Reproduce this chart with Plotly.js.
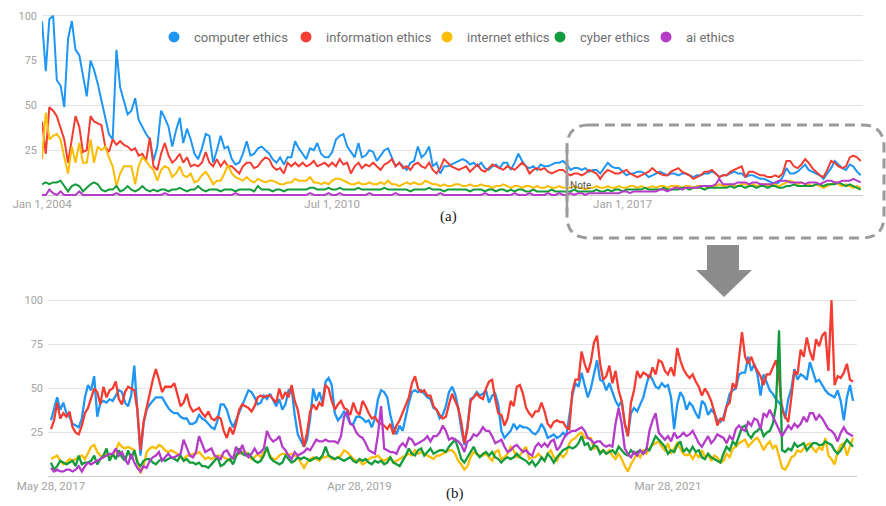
<!DOCTYPE html>
<html>
<head>
<meta charset="utf-8">
<script src="https://cdn.plot.ly/plotly-3.0.1.min.js"></script>
<style>html,body{margin:0;padding:0;background:#fff;}#chart{width:886px;height:506px;}</style>
</head>
<body>
<div id="chart"></div>
<script>
// ---------- series names & colours ----------
const seriesNames = ['computer ethics','information ethics','internet ethics','cyber ethics','ai ethics'];
const seriesColors = ['#1f96f3','#f43c32','#fbbc04','#149b3c','#b43cc8'];

// ---------- panel (a): monthly, Jan 2004 - May 2022 ----------
const topStartYear = 2004;
const topTickVals = ['2004-01-01','2010-07-01','2017-01-01'];
const topTickText = ['Jan 1, 2004','Jul 1, 2010','Jan 1, 2017'];

const topComputer = [
97,69,98,100,64,61,49,87,97,81,
78,66,55,75,70,62,53,44,34,31,
81,60,53,45,47,54,42,38,34,31,
19,27,47,43,38,27,36,43,29,37,
31,23,20,26,34,33,18,25,33,26,
27,20,17,18,23,30,22,23,26,27,
25,23,20,18,21,17,21,21,30,26,
23,20,26,25,29,23,21,21,24,31,
33,34,27,24,21,29,21,22,25,24,
19,22,25,26,21,16,18,16,14,18,
19,27,21,23,27,16,18,12,16,16,
17,18,19,20,19,17,18,16,18,15,
14,16,17,15,18,18,14,18,23,19,
16,15,16,14,
17,16,16,17,18,18,19,17,14,15,15,
14,15,13,14,14,12,15,18,16,15,
15,13,11,12,12,13,13,12,10,11,
12,13,12,11,12,12,11,12,12,11,
10,11,11,12,12,13,12,10,11,11,
12,13,12,12,10,11,11,10,9,9,
8,7,6,7,10,15,12,12,13,15,
17,14,13,12,11,9,12,15,19,17,
15,14,17,16,13,11];

const topInformation = [
41,23,49,47,44,38,31,18,32,44,
38,24,25,44,41,40,39,27,24,31,
28,30,28,27,25,26,22,23,19,32,
16,14,23,29,22,18,20,23,18,21,
16,17,16,18,24,18,16,20,16,19,
16,16,14,12,16,18,18,15,16,19,
21,20,16,14,15,12,18,16,18,16,
18,16,17,19,16,17,18,16,18,16,
20,17,18,12,16,18,15,17,16,18,
16,14,17,18,20,16,18,15,16,14,
17,18,16,15,18,14,12,15,20,18,
16,15,14,15,16,13,15,17,14,13,
15,17,16,15,14,16,15,14,16,18,
16,12,14,15,
14,15,13,12,13,14,14,12,11,12,12,
11,12,14,13,12,9,12,14,13,12,
12,13,14,12,11,10,11,12,13,15,
13,12,11,11,13,14,15,13,12,11,
9,10,11,13,13,14,12,10,11,11,
13,14,15,16,10,13,13,12,11,11,
10,10,11,10,12,19,19,16,15,17,
20,18,15,13,11,10,14,19,18,16,
15,16,21,22,21,19];

const topInternet = [
20,46,31,33,34,31,21,12,27,18,
29,18,18,31,18,27,25,27,21,16,
5,12,16,16,16,6,16,21,19,16,
14,8,14,16,15,10,12,16,11,10,
12,7,8,11,13,10,6,8,8,12,
17,12,10,9,8,10,8,7,9,8,
7,8,8,7,6,6,7,7,9,8,
8,8,10,7,7,6,7,6,8,9,
9,8,7,6,6,7,6,6,7,6,
6,7,6,8,6,6,5,6,7,6,
7,6,6,8,7,6,6,5,6,5,
5,6,6,5,5,6,5,5,6,5,
5,4,5,5,6,5,4,5,5,4,
5,5,4,5,
4,4,5,4,4,5,4,4,4,5,4,4,3,4,4,5,4,
4,5,4,4,5,4,4,5,5,4,5,4,4,5,4,5,5,4,5,5,
5,4,5,5,4,5,5,5,4,5,5,6,5,5,6,5,5,6,6,5,
6,5,6,6,5,6,6,5,6,7,8,7,6,7,6,6,5,6,5,4,
5,6,7,6,5,6,5,4,5,4];

const topCyber = [
6,7,6,7,7,8,5,2,5,6,
5,2,4,6,7,6,3,2,3,3,
5,2,3,5,3,2,3,5,3,2,
3,2,3,3,2,3,3,4,3,2,
3,3,5,3,2,3,3,3,2,3,
3,3,2,3,3,3,3,2,5,3,
3,3,2,3,3,2,3,3,3,3,
3,3,4,4,3,3,3,4,3,3,
4,3,3,3,3,4,3,3,3,3,
3,3,4,3,3,3,3,3,3,2,
3,3,3,3,4,3,3,3,2,3,
3,3,3,3,3,2,3,3,3,2,
3,3,2,3,3,2,3,2,3,3,
2,2,3,2,
2,2,2,3,2,2,2,2,2,3,2,2,2,2,2,3,2,
2,3,2,3,3,2,3,3,3,3,3,4,3,3,3,3,4,3,3,3,
3,4,4,3,4,4,4,3,4,4,4,4,4,4,5,4,5,5,4,5,
5,4,5,5,4,5,5,4,4,5,5,6,5,5,5,5,5,6,6,5,
6,6,6,7,6,5,6,5,4,3];

const topAi = [
0,0,3,1,0,2,0,0,0,0,
2,0,0,0,0,0,0,0,0,0,
1,0,0,0,0,0,0,0,0,0,
0,0,0,1,0,0,0,0,0,0,
0,0,0,0,0,0,0,0,0,0,
0,0,1,0,0,0,0,0,0,0,
0,0,0,0,0,0,0,0,0,0,
0,0,1,0,0,0,0,1,0,0,
1,0,0,0,0,0,0,0,1,0,
0,0,0,0,0,1,0,0,0,0,
0,0,0,0,0,0,0,1,0,0,
0,0,0,0,0,0,0,0,0,1,
0,0,0,0,0,0,0,1,0,0,
0,1,0,0,
0,0,1,0,0,1,0,0,1,0,1,1,0,1,1,1,1,
1,1,1,1,1,2,2,1,2,2,2,2,2,2,2,3,3,2,3,4,
4,3,4,4,4,4,5,5,5,5,6,9,6,6,6,6,7,7,7,6,
7,7,6,6,6,6,7,8,8,8,7,7,7,7,6,7,7,7,6,7,
8,8,7,7,8,8,8,9,8,7];

// ---------- panel (b): weekly, May 28 2017 - May 22 2022 ----------
const bottomStart = [2017, 4, 28];
const bottomTickVals = ['2017-05-28','2019-04-28','2021-03-28'];
const bottomTickText = ['May 28, 2017','Apr 28, 2019','Mar 28, 2021'];

const weekComputer = [
32,38,45,38,42,36,34,30,29,28,
33,45,52,49,57,34,42,43,42,44,
43,46,49,48,42,40,46,63,38,12,
30,38,41,43,45,45,45,42,39,37,
36,36,34,33,33,30,30,31,35,33,
32,30,28,27,32,41,41,38,32,28,
32,36,41,
44,49,48,45,41,42,46,
44,47,43,40,44,38,41,49,50,35,
24,20,17,21,33,50,43,48,42,54,
56,52,36,32,34,37,34,30,30,34,
34,33,31,32,28,33,44,49,48,45,
35,28,24,29,26,34,42,48,49,48,
49,47,45,44,39,38,33,35,40,48,51,
47,39,27,18,29,44,45,48,46,
47,49,42,46,47,41,26,22,24,26,
30,27,29,28,28,27,25,24,26,30,
27,22,23,24,22,23,25,23,34,46,
53,51,59,52,45,50,59,66,55,54,
49,53,48,43,40,43,30,23,36,39,
37,41,45,52,58,55,51,50,
53,51,
52,45,27,41,48,45,38,42,40,36,
33,43,41,35,38,36,32,31,34,40,
47,49,50,58,59,59,68,60,64,58,
46,58,53,49,47,44,42,40,33,44,
50,61,55,58,57,55,65,60,54,55,
52,49,47,46,45,49,43,32,45,52,43];

const weekInformation = [
27,32,42,33,36,34,37,28,25,24,
29,36,39,44,50,48,41,51,45,49,
50,54,44,41,48,51,50,49,38,15,
31,40,47,55,61,55,48,51,51,51,
53,47,40,42,47,40,37,38,39,36,
34,37,33,32,34,33,26,22,28,24,
30,38,41,
40,39,37,40,45,46,45,
46,46,44,42,50,44,48,45,52,43,
38,28,17,25,37,41,38,42,40,52,
50,43,38,41,43,39,38,35,42,37,
35,43,40,36,33,34,31,30,29,27,
30,24,29,32,36,41,45,53,57,50,
48,49,46,46,40,38,35,33,34,41,47,
43,39,31,19,27,43,45,47,45,
44,50,54,55,44,36,35,29,33,43,
40,51,52,47,39,36,34,37,37,42,
37,30,28,31,32,31,31,28,27,48,
55,55,71,64,59,65,76,80,64,55,
57,63,53,60,49,43,30,23,42,49,
60,56,59,58,56,62,58,66,
65,60,
58,62,57,73,66,61,58,56,58,54,
51,46,50,47,43,37,29,33,32,40,
42,53,50,67,82,68,64,68,63,60,
57,52,58,58,62,66,56,38,34,31,
45,60,58,72,68,79,71,66,78,74,
80,82,60,100,52,57,56,59,64,55,54];

const weekInternet = [
10,11,12,9,7,8,10,9,10,11,
12,10,14,17,18,14,12,11,13,11,
12,15,19,17,16,17,16,15,9,2,
6,14,16,17,16,18,17,15,14,15,
14,13,11,10,12,12,13,13,14,12,
10,11,10,11,12,12,11,10,9,11,
12,13,14,
14,13,10,11,13,11,14,
15,12,10,10,12,13,13,12,13,12,
11,8,5,8,10,11,10,9,11,11,
12,10,10,11,12,15,14,12,10,9,
9,7,8,10,11,11,12,10,9,10,
11,8,9,10,11,12,13,12,15,13,
14,13,12,11,10,12,12,13,14,15,15,
13,9,7,4,6,11,14,13,12,
12,13,11,9,14,15,10,11,13,17,
15,11,12,15,17,10,11,11,13,11,
9,13,15,11,9,13,11,13,19,21,
22,24,25,22,22,22,16,17,14,15,
13,15,12,10,13,10,6,3,7,10,
13,11,15,13,16,18,19,20,
17,15,
19,13,16,19,16,13,12,13,10,13,
11,15,11,13,9,12,11,8,9,13,
11,16,17,19,20,21,17,19,21,22,
19,15,18,20,16,18,11,5,4,7,
11,12,15,14,16,18,19,16,14,17,
15,22,12,10,7,14,18,19,12,17,22];

const weekCyber = [
8,4,6,9,8,7,8,9,6,12,
7,8,8,9,12,7,10,12,16,9,
13,10,15,11,9,15,10,15,8,6,
9,10,10,8,7,9,10,9,10,11,
10,9,12,9,10,8,8,7,8,6,
6,5,7,9,11,6,7,9,10,7,
12,16,13,
12,13,11,9,8,9,12,
17,11,9,8,7,8,12,10,8,9,
11,10,11,10,9,10,11,10,12,17,
12,11,10,11,10,9,10,11,9,8,
10,9,10,8,7,9,8,9,7,8,
11,8,7,6,9,12,16,13,12,15,
16,12,14,16,13,14,15,15,14,17,19,
21,16,10,8,11,14,17,13,11,
13,14,12,14,11,10,8,10,11,10,
11,13,11,10,9,7,9,6,8,11,
9,13,11,8,11,13,15,16,17,16,
17,19,23,18,19,15,18,17,13,15,
13,14,15,13,17,15,13,12,15,13,
14,15,13,16,15,19,23,21,
19,17,
13,15,14,18,20,14,16,14,17,14,
15,11,10,13,11,10,9,8,13,17,
15,20,18,23,28,29,24,22,25,26,
28,23,25,26,30,40,83,15,14,16,
15,19,17,18,19,15,17,19,19,18,
18,20,19,18,15,13,15,18,21,19,17];

const weekAi = [
5,3,4,3,3,4,4,3,4,6,
3,6,8,7,8,9,10,11,12,13,
13,16,12,14,10,7,13,8,5,3,
6,5,9,11,12,14,9,11,13,11,
11,12,13,21,16,12,11,14,23,18,
14,15,16,12,11,10,14,15,12,10,
17,13,18,
13,11,13,16,13,14,16,
26,22,20,21,23,17,15,12,10,14,
12,13,14,16,15,18,21,20,20,21,
20,20,20,19,23,34,37,30,29,25,
23,22,19,15,14,13,24,40,16,15,
14,14,13,17,19,17,22,21,18,19,
20,21,23,20,23,23,25,29,26,21,22,
21,20,18,14,20,21,24,23,25,
28,26,26,23,19,20,21,17,14,15,
17,18,16,14,15,13,12,17,19,17,
19,17,20,21,15,17,21,24,25,26,
26,27,28,26,22,21,19,20,20,18,
17,18,17,30,39,30,16,13,11,14,
12,15,13,15,26,32,36,25,
23,21,
23,20,25,22,23,25,23,24,26,22,
19,17,20,23,19,21,24,23,22,19,
23,21,27,29,27,26,31,29,33,32,
27,36,34,38,34,31,26,23,26,29,
27,30,28,30,34,31,36,36,32,35,
33,30,27,26,24,20,25,28,25,24,23];

const yTickVals = [25,50,75,100];

// ---------- helpers ----------
const W = 886, H = 506;
const px = v => v / W;
const py = v => 1 - v / H;

function monthDates(n) {
  const out = [];
  for (let i = 0; i < n; i++) {
    const y = topStartYear + Math.floor(i / 12), m = (i % 12) + 1;
    out.push(y + '-' + String(m).padStart(2, '0') + '-01');
  }
  return out;
}
function weekDates(n) {
  const out = [];
  const t0 = Date.UTC(bottomStart[0], bottomStart[1], bottomStart[2]);
  for (let i = 0; i < n; i++) out.push(new Date(t0 + i * 7 * 864e5).toISOString().slice(0, 10));
  return out;
}

const topSeries = [topComputer, topInformation, topInternet, topCyber, topAi];
const weekSeries = [weekComputer, weekInformation, weekInternet, weekCyber, weekAi];
const topX = monthDates(topComputer.length);
const weekX = weekDates(weekComputer.length);

const legendIds = ['legend','legend2','legend3','legend4','legend5'];
const legendLeft = [154, 286, 427, 540, 646];

const traces = [];
topSeries.forEach((ys, k) => traces.push({
  type: 'scatter', mode: 'lines', x: topX, y: ys, xaxis: 'x', yaxis: 'y',
  line: {color: seriesColors[k], width: 2}, showlegend: false, hoverinfo: 'skip', name: seriesNames[k]
}));
weekSeries.forEach((ys, k) => traces.push({
  type: 'scatter', mode: 'lines', x: weekX, y: ys, xaxis: 'x2', yaxis: 'y2',
  line: {color: seriesColors[k], width: 2.3}, showlegend: false, hoverinfo: 'skip', name: seriesNames[k]
}));
// legend entries (circle markers, nothing drawn in the plot)
seriesNames.forEach((nm, k) => traces.push({
  type: 'scatter', mode: 'markers', x: [null], y: [null], xaxis: 'x', yaxis: 'y',
  marker: {color: seriesColors[k], size: 11, symbol: 'circle'}, name: nm,
  showlegend: true, legend: legendIds[k], hoverinfo: 'skip'
}));

const tickFont = {family: 'Roboto, Arial, sans-serif', size: 11, color: '#a3a3a3'};
const xTickFont = {family: 'Roboto, Arial, sans-serif', size: 11.5, color: '#a3a3a3'};

function yAxis(domain, anchor) {
  return {
    domain: domain, anchor: anchor, range: [-0.5, 101.5], tickvals: yTickVals,
    showgrid: true, gridcolor: '#e3e3e3', gridwidth: 1,
    zeroline: true, zerolinecolor: '#c9c9c9', zerolinewidth: 1,
    showline: false, ticks: '', tickfont: tickFont, ticklabelstandoff: 4, fixedrange: true
  };
}

function roundRect(l, t, r, b, rad) {
  const P = (x, y) => px(x).toFixed(5) + ',' + py(y).toFixed(5);
  return 'M' + P(l + rad, t) + ' L' + P(r - rad, t) + ' Q' + P(r, t) + ' ' + P(r, t + rad) +
    ' L' + P(r, b - rad) + ' Q' + P(r, b) + ' ' + P(r - rad, b) +
    ' L' + P(l + rad, b) + ' Q' + P(l, b) + ' ' + P(l, b - rad) +
    ' L' + P(l, t + rad) + ' Q' + P(l, t) + ' ' + P(l + rad, t) + ' Z';
}
function poly(pts) {
  return pts.map((p, i) => (i ? 'L' : 'M') + px(p[0]).toFixed(5) + ',' + py(p[1]).toFixed(5)).join(' ') + ' Z';
}

const layout = {
  width: W, height: H,
  margin: {l: 0, r: 0, t: 0, b: 0},
  paper_bgcolor: '#ffffff', plot_bgcolor: 'rgba(0,0,0,0)',
  font: {family: 'Roboto, Arial, sans-serif'},
  showlegend: true,
  xaxis: {
    domain: [px(42), px(863)], anchor: 'y', type: 'date', range: ['2004-01-01', '2022-05-20'],
    tickvals: topTickVals, ticktext: topTickText, showgrid: false, zeroline: false, showline: false,
    ticks: '', tickfont: xTickFont, fixedrange: true
  },
  yaxis: yAxis([py(195.9), py(13.0)], 'x'),
  xaxis2: {
    domain: [px(48), px(857)], anchor: 'y2', type: 'date', range: ['2017-05-21 05:00', '2022-05-30 22:00'],
    tickvals: bottomTickVals, ticktext: bottomTickText, showgrid: false, zeroline: false, showline: false,
    ticks: '', tickfont: xTickFont, fixedrange: true
  },
  yaxis2: yAxis([py(477.6), py(297.7)], 'x2'),
  annotations: [
    {xref: 'paper', yref: 'paper', x: px(448), y: py(217), text: '(a)', showarrow: false,
     font: {family: 'Liberation Serif, Times New Roman, serif', size: 15, color: '#1a1a1a'}, xanchor: 'center', yanchor: 'middle'},
    {xref: 'paper', yref: 'paper', x: px(455), y: py(493), text: '(b)', showarrow: false,
     font: {family: 'Liberation Serif, Times New Roman, serif', size: 15, color: '#1a1a1a'}, xanchor: 'center', yanchor: 'middle'},
    {xref: 'paper', yref: 'paper', x: px(568), y: py(185), text: 'Note', showarrow: false,
     font: {family: 'Roboto, Arial, sans-serif', size: 10, color: '#5a5a5a'}, xanchor: 'left', yanchor: 'middle'}
  ],
  shapes: [
    {type: 'path', xref: 'paper', yref: 'paper', path: roundRect(567, 125, 884, 238, 22),
     line: {color: '#9b9b9b', width: 3, dash: '10px,6px'}, fillcolor: 'rgba(0,0,0,0)'},
    {type: 'line', xref: 'paper', yref: 'paper', x0: px(567), x1: px(567), y0: py(150), y1: py(212),
     line: {color: '#9b9b9b', width: 2.5}},
    {type: 'path', xref: 'paper', yref: 'paper',
     path: poly([[707,245],[739,245],[739,270],[752,270],[724,297],[696,270],[707,270]]),
     fillcolor: '#8c8c8c', line: {width: 0}}
  ]
};
legendIds.forEach((id, k) => {
  layout[id] = {
    orientation: 'h', x: px(legendLeft[k]), xanchor: 'left', y: py(37), yanchor: 'middle',
    bgcolor: 'rgba(0,0,0,0)', borderwidth: 0,
    font: {family: 'Roboto, Arial, sans-serif', size: 13, color: '#6f6f6f'}, itemwidth: 30
  };
});

Plotly.newPlot('chart', traces, layout, {staticPlot: true, displayModeBar: false});

topSeries.forEach((s, k) => { if (s.length !== 221) throw new Error('top series ' + k + ' length ' + s.length); });
weekSeries.forEach((s, k) => { if (s.length !== 261) throw new Error('week series ' + k + ' length ' + s.length); });
</script>
</body>
</html>
